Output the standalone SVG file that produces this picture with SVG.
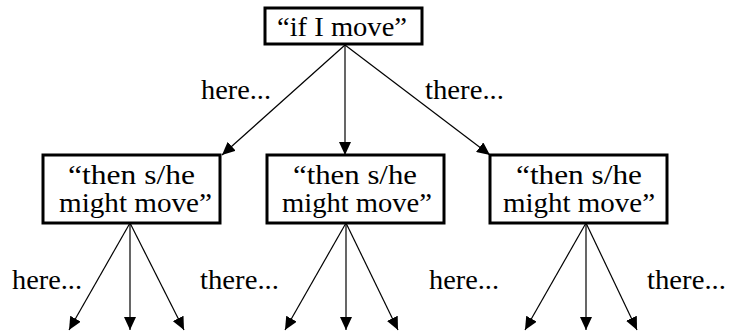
<svg xmlns="http://www.w3.org/2000/svg" width="730" height="332" viewBox="0 0 730 332">
<style>
.box{fill:#fff;stroke:#000;stroke-width:3}
.t{font-family:"Liberation Serif","Times New Roman",serif;font-size:28px;fill:#000}
.ln{stroke:#000;stroke-width:1.2;fill:none;marker-end:url(#ah)}
</style>
<defs>
<marker id="ah" markerUnits="userSpaceOnUse" markerWidth="14" markerHeight="12" viewBox="0 0 14 12" refX="13" refY="6" orient="auto">
<path d="M0,0 L13,6 L0,12 Z" fill="#000"/>
</marker>
</defs>
<rect width="730" height="332" fill="#fff"/>
<g id="connectors">
<line class="ln" x1="345" y1="45" x2="222" y2="155"/>
<line class="ln" x1="345" y1="45" x2="345" y2="155"/>
<line class="ln" x1="345" y1="45" x2="490" y2="155"/>
<line class="ln" x1="130" y1="223" x2="69" y2="330"/>
<line class="ln" x1="130" y1="223" x2="130" y2="330"/>
<line class="ln" x1="130" y1="223" x2="184" y2="330"/>
<line class="ln" x1="346" y1="223" x2="285" y2="330"/>
<line class="ln" x1="346" y1="223" x2="346" y2="330"/>
<line class="ln" x1="346" y1="223" x2="398" y2="330"/>
<line class="ln" x1="586" y1="223" x2="525" y2="330"/>
<line class="ln" x1="586" y1="223" x2="586" y2="330"/>
<line class="ln" x1="586" y1="223" x2="637" y2="330"/>
</g>
<g id="root">
<rect class="box" x="265" y="8" width="157" height="36"/>
<text class="t" x="277" y="36" textLength="130" lengthAdjust="spacingAndGlyphs">“if I move”</text>
</g>
<g id="child-left">
<rect class="box" x="43" y="155" width="177" height="68"/>
<text class="t" x="68" y="184" textLength="127" lengthAdjust="spacingAndGlyphs">“then s/he</text>
<text class="t" x="59" y="212" textLength="153" lengthAdjust="spacingAndGlyphs">might move”</text>
</g>
<g id="child-middle">
<rect class="box" x="267" y="155" width="177" height="68"/>
<text class="t" x="293" y="184" textLength="124" lengthAdjust="spacingAndGlyphs">“then s/he</text>
<text class="t" x="282" y="212" textLength="150" lengthAdjust="spacingAndGlyphs">might move”</text>
</g>
<g id="child-right">
<rect class="box" x="490" y="155" width="177" height="68"/>
<text class="t" x="516" y="184" textLength="126" lengthAdjust="spacingAndGlyphs">“then s/he</text>
<text class="t" x="503" y="212" textLength="152" lengthAdjust="spacingAndGlyphs">might move”</text>
</g>
<g id="labels">
<text class="t" x="201" y="99" textLength="70" lengthAdjust="spacingAndGlyphs">here...</text>
<text class="t" x="425" y="99" textLength="79" lengthAdjust="spacingAndGlyphs">there...</text>
<text class="t" x="12" y="289" textLength="70" lengthAdjust="spacingAndGlyphs">here...</text>
<text class="t" x="200" y="289" textLength="79" lengthAdjust="spacingAndGlyphs">there...</text>
<text class="t" x="429" y="289" textLength="70" lengthAdjust="spacingAndGlyphs">here...</text>
<text class="t" x="647" y="289" textLength="79" lengthAdjust="spacingAndGlyphs">there...</text>
</g>
</svg>
